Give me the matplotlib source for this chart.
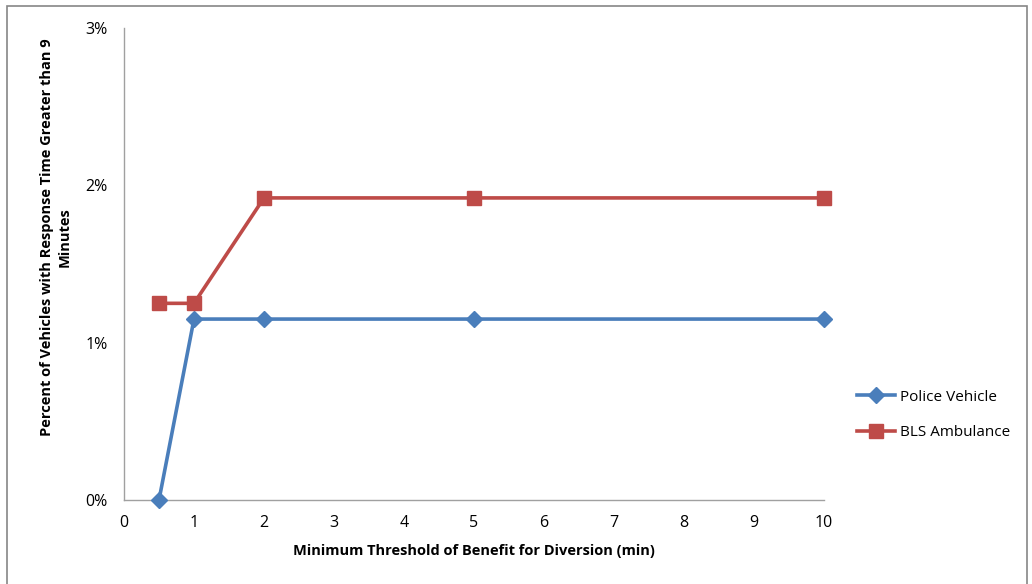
import matplotlib
matplotlib.use("Agg")
import matplotlib.pyplot as plt
from matplotlib.patches import Rectangle
from matplotlib.ticker import FuncFormatter

thresholds = [0.5, 1, 2, 5, 10]
police_vehicle = [0.0, 1.15, 1.15, 1.15, 1.15]
bls_ambulance = [1.25, 1.25, 1.92, 1.92, 1.92]
x_ticks = list(range(0, 11))
y_ticks = [0, 1, 2, 3]

plt.rcParams['font.family'] = ['Open Sans', 'DejaVu Sans']

W, H = 1032, 584
fig = plt.figure(figsize=(W / 100, H / 100), dpi=100)

# outer chart frame
fig.patches.append(Rectangle((7 / W, -0.01), 1020 / W, 1 - 6 / H + 0.01,
                             transform=fig.transFigure, fill=False,
                             edgecolor='#868686', linewidth=1.2))

ax = fig.add_axes([124 / W, 1 - 500 / H, 700 / W, 472 / H])
ax.plot(thresholds, police_vehicle, color='#4A7EBB', linewidth=2.6,
        marker='D', markersize=8.5, label='Police Vehicle', zorder=3,
        clip_on=False)
ax.plot(thresholds, bls_ambulance, color='#BE4B48', linewidth=2.6,
        marker='s', markersize=10.5, label='BLS Ambulance', zorder=3,
        clip_on=False)

ax.set_xlim(0, 10)
ax.set_ylim(0, 3)
ax.set_xticks(x_ticks)
ax.set_yticks(y_ticks)
ax.yaxis.set_major_formatter(FuncFormatter(lambda v, p: f"{v:.0f}%"))
ax.tick_params(length=0, labelsize=11.5, colors='#000000')
ax.tick_params(axis='x', pad=11)
ax.tick_params(axis='y', pad=12)
for s in ('top', 'right'):
    ax.spines[s].set_visible(False)
for s in ('left', 'bottom'):
    ax.spines[s].set_color('#A0A0A0')
    ax.spines[s].set_linewidth(1.0)

fig.text(474 / W, 1 - 551 / H, 'Minimum Threshold of Benefit for Diversion (min)',
         ha='center', va='center', fontsize=10.5, fontweight='bold')
fig.text(56 / W, 1 - 237 / H,
         'Percent of Vehicles with Response Time Greater than 9\nMinutes',
         ha='center', va='center', rotation=90, fontsize=10.5,
         fontweight='bold', linespacing=1.3)

fig.legend(loc='center left', bbox_to_anchor=(843 / W, 1 - 415 / H),
           frameon=False, fontsize=11, handlelength=2.5,
           labelspacing=1.35, handletextpad=0.3)

fig.savefig('out.png', dpi=100)
